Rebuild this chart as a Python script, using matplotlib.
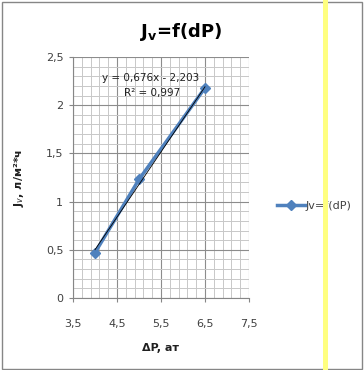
import numpy as np
import matplotlib
matplotlib.use('Agg')
import matplotlib.pyplot as plt
from matplotlib.ticker import MultipleLocator, FuncFormatter
from matplotlib.patches import Rectangle

# data
dP = [4.0, 5.0, 6.5]
Jv = [0.47, 1.23, 2.18]
# trend line shown on the chart
slope, intercept = 0.676, -2.203
r2 = 0.997

series_label = 'Jv=f(dP)'
eq_text = 'y = 0,676x - 2,203'
r2_text = 'R² = 0,997'

plt.rcParams['font.family'] = ['DejaVu Sans']

fig = plt.figure(figsize=(3.64, 3.70), dpi=100)
ax = fig.add_axes([73/364, 1 - 298/370, 176/364, 241/370])

blue = '#4F81BD'
ax.plot(dP, Jv, color=blue, lw=2.5, marker='D', ms=5, zorder=3, label=series_label)

# linear trend line
xt = np.array([min(dP), max(dP)])
ax.plot(xt, slope * xt + intercept, color='black', lw=0.6, zorder=4)

ax.set_xlim(3.5, 7.5)
ax.set_ylim(0, 2.5)
ax.xaxis.set_major_locator(MultipleLocator(1.0, offset=0.5))
ax.xaxis.set_minor_locator(MultipleLocator(0.2, offset=0.1))
ax.yaxis.set_major_locator(MultipleLocator(0.5))
ax.yaxis.set_minor_locator(MultipleLocator(0.1))

comma = FuncFormatter(lambda v, p: ('%g' % round(v, 2)).replace('.', ','))
ax.xaxis.set_major_formatter(comma)
ax.yaxis.set_major_formatter(comma)

ax.grid(which='major', color='#8C8C8C', lw=0.8)
ax.grid(which='minor', color='#C8C8C8', lw=0.7)
ax.set_axisbelow(True)

for s in ['top', 'right']:
    ax.spines[s].set_visible(False)
for s in ['left', 'bottom']:
    ax.spines[s].set_color('#868686')
    ax.spines[s].set_linewidth(0.8)

ax.tick_params(which='major', length=3, width=0.8, color='#868686',
               labelsize=8, labelcolor='#404040')
ax.tick_params(axis='y', which='major', pad=4)
ax.tick_params(axis='x', which='major', pad=12)
ax.tick_params(which='minor', length=0)

ax.set_xlabel('ΔP, ат', fontsize=8, fontweight='bold', color='#202020', labelpad=10)
ax.set_ylabel('J$_v$, л/м²*ч', fontsize=8, fontweight='bold', color='#202020', labelpad=14)

ax.text(5.27, 2.28, eq_text, fontsize=7.5, color='#202020', ha='center', va='center')
ax.text(5.3, 2.13, r2_text, fontsize=7.5, color='#202020', ha='center', va='center')

fig.text(181/364, 1 - 32/370, 'J$_\\mathbf{v}$=f(dP)', fontsize=13, fontweight='bold',
         ha='center', va='center', color='black')

ax.legend(loc='center left', bbox_to_anchor=(277/364, 1 - 206/370),
          bbox_transform=fig.transFigure, frameon=False, fontsize=8,
          handlelength=2.5, handletextpad=0.1, borderpad=0, borderaxespad=0,
          labelcolor='#404040')

# chart area border and the yellow band
fig.patches.append(Rectangle((1.5/364, 1.5/370), 360.5/364, 366.5/370, fill=False,
                             edgecolor='#868686', lw=1, transform=fig.transFigure))
fig.patches.append(Rectangle((323/364, 0), 5/364, 1, facecolor='#FFFF80',
                             edgecolor='none', transform=fig.transFigure))

fig.savefig('out.png', dpi=100)
